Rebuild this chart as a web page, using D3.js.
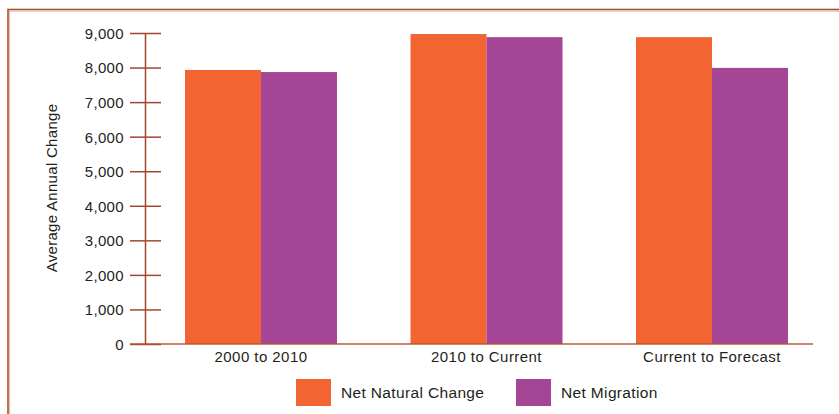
<!DOCTYPE html>
<html>
<head>
<meta charset="utf-8">
<script src="https://cdn.jsdelivr.net/npm/d3@7"></script>
<style>
  html, body { margin: 0; padding: 0; background: #fff; }
  svg { display: block; font-family: "Liberation Sans", Arial, Helvetica, sans-serif; }
</style>
</head>
<body>
<svg id="chart" width="839" height="414"></svg>
<script>
// Average annual population change by period
const categories = ["2000 to 2010", "2010 to Current", "Current to Forecast"];
const seriesNames = ["Net Natural Change", "Net Migration"];
const netNaturalChange = [7930, 8970, 8880];
const netMigration = [7870, 8880, 7990];
const yTicks = [0, 1000, 2000, 3000, 4000, 5000, 6000, 7000, 8000, 9000];
const colors = ["#F26532", "#A44596"];

const rows = categories.map((c, i) => ({
  category: c,
  values: [netNaturalChange[i], netMigration[i]]
}));

const svg = d3.select("#chart");
const W = 839, H = 414;

// Outer frame
svg.append("rect")
  .attr("x", 8).attr("y", 9.5)
  .attr("width", W + 20).attr("height", H + 20)
  .attr("fill", "none")
  .attr("stroke", "#a8502f")
  .attr("stroke-width", 1.6);
svg.append("line")
  .attr("x1", 9.5).attr("x2", W).attr("y1", 11.2).attr("y2", 11.2)
  .attr("stroke", "#e6b9a2").attr("stroke-width", 1);
svg.append("line")
  .attr("x1", 9.7).attr("x2", 9.7).attr("y1", 11).attr("y2", H)
  .attr("stroke", "#e6b9a2").attr("stroke-width", 1);

const y = d3.scaleLinear().domain([0, 9000]).range([344, 33]);
const x0 = d3.scaleBand().domain(categories).range([148.25, 824.75])
  .paddingInner(0.326).paddingOuter(0.163);
const x1 = d3.scaleBand().domain(seriesNames).range([0, x0.bandwidth()]);

// Bars
const groups = svg.append("g").selectAll("g").data(rows).join("g")
  .attr("transform", d => `translate(${x0(d.category)},0)`);
groups.selectAll("rect")
  .data(d => d.values.map((v, j) => ({ key: seriesNames[j], value: v, j })))
  .join("rect")
  .attr("x", d => x1(d.key))
  .attr("y", d => y(d.value))
  .attr("width", x1.bandwidth())
  .attr("height", d => y(0) - y(d.value))
  .attr("fill", d => colors[d.j]);

// Y axis
const yAxis = svg.append("g")
  .attr("transform", "translate(145,0)")
  .call(d3.axisLeft(y).tickValues(yTicks).tickFormat(d3.format(",")).tickSize(0).tickPadding(21));
yAxis.select(".domain").attr("stroke", "#a5462b").attr("stroke-width", 1.5);
yAxis.selectAll(".tick text")
  .attr("fill", "#231f20")
  .attr("font-size", "15px")
  .attr("letter-spacing", "0.35px")
  .attr("dy", "0.36em");
yAxis.selectAll(".tick").append("line")
  .attr("x1", -15).attr("x2", 16)
  .attr("stroke", "#a5462b").attr("stroke-width", 1.5);

// Baseline
svg.append("line")
  .attr("x1", 130).attr("x2", 813)
  .attr("y1", y(0)).attr("y2", y(0))
  .attr("stroke", "#b4532c").attr("stroke-opacity", 0.7).attr("stroke-width", 1.8);

// Category labels
svg.append("g").selectAll("text").data(categories).join("text")
  .attr("x", d => x0(d) + x0.bandwidth() / 2)
  .attr("y", 362)
  .attr("text-anchor", "middle")
  .attr("fill", "#231f20")
  .attr("font-size", "15px")
  .attr("letter-spacing", "0.45px")
  .text(d => d);

// Y axis title
svg.append("text")
  .attr("transform", "translate(57,188) rotate(-90)")
  .attr("text-anchor", "middle")
  .attr("fill", "#231f20")
  .attr("font-size", "15px")
  .attr("letter-spacing", "0.3px")
  .text("Average Annual Change");

// Legend
const legendX = [296, 516];
const legend = svg.append("g").selectAll("g").data(seriesNames).join("g")
  .attr("transform", (d, i) => `translate(${legendX[i]},379)`);
legend.append("rect")
  .attr("width", 35).attr("height", 27)
  .attr("fill", (d, i) => colors[i]);
legend.append("text")
  .attr("x", 45).attr("y", 19)
  .attr("fill", "#231f20")
  .attr("font-size", "15.5px")
  .attr("letter-spacing", "0.35px")
  .text(d => d);
</script>
</body>
</html>
